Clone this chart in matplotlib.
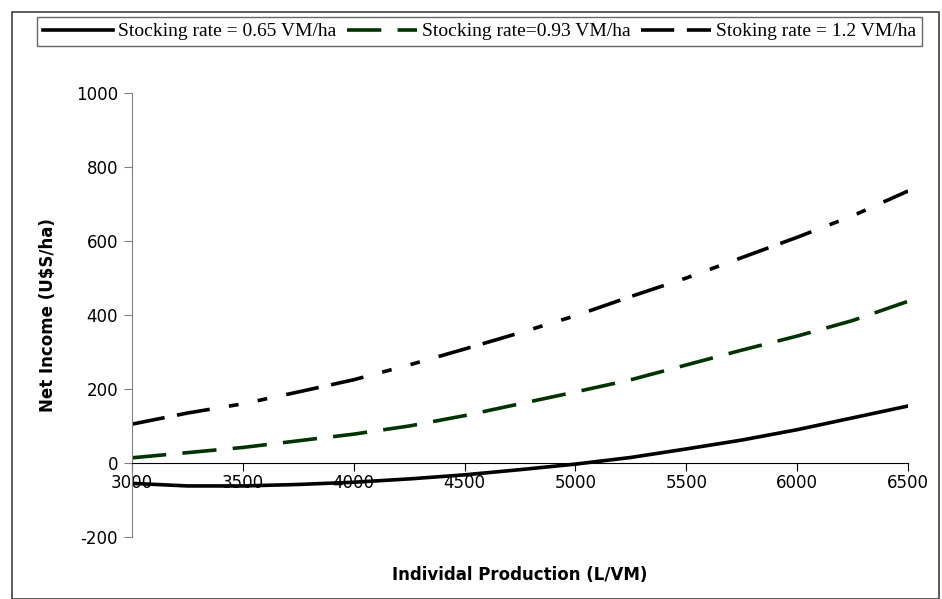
import matplotlib
matplotlib.use('Agg')
import matplotlib.pyplot as plt
from matplotlib.patches import Rectangle

# Individual production (L/VM)
production = [3000, 3250, 3500, 3750, 4000, 4250, 4500, 4750, 5000,
              5250, 5500, 5750, 6000, 6250, 6500]
# Net income (U$S/ha) for each stocking rate
income_065 = [-55, -62, -62, -58, -52, -43, -32, -18, -3,
              15, 38, 62, 90, 122, 154]
income_093 = [14, 28, 42, 60, 78, 100, 128, 160, 192,
              225, 265, 305, 343, 385, 437]
income_12 = [105, 135, 160, 192, 225, 265, 308, 352, 398,
             450, 500, 555, 610, 668, 735]

labels = ['Stocking rate = 0.65 VM/ha', 'Stocking rate=0.93 VM/ha',
          'Stoking rate = 1.2 VM/ha']

plt.rcParams['axes.unicode_minus'] = False

fig = plt.figure(figsize=(9.42, 5.99), dpi=100)
ax = fig.add_axes([132/942, 1 - 537/599, 776/942, 444/599])

lw = 2.6
ax.plot(production, income_065, color='black', lw=lw, label=labels[0])
ax.plot(production, income_093, color='#003300', lw=lw,
        dashes=(9.5, 4.5), label=labels[1])
ax.plot(production, income_12, color='black', lw=lw,
        dashes=(9.2, 3.5, 9.2, 5.4, 2.7, 5.4, 2.7, 5.4), label=labels[2])

ax.set_xlim(3000, 6500)
ax.set_ylim(-200, 1000)
ax.set_xticks(range(3000, 6501, 500))
ax.set_yticks(range(-200, 1001, 200))

ax.spines['top'].set_visible(False)
ax.spines['right'].set_visible(False)
ax.spines['bottom'].set_position(('data', 0))
ax.spines['bottom'].set_color('black')
ax.spines['left'].set_color('#808080')
ax.tick_params(axis='x', direction='out', length=6, color='black',
               labelsize=12, pad=2)
ax.tick_params(axis='y', direction='out', length=6, color='#808080',
               labelsize=12, pad=4)

ax.set_ylabel('Net Income (U$S/ha)', fontsize=12, fontweight='bold', labelpad=14)
ax.set_xlabel('Individal Production (L/VM)', fontsize=12, fontweight='bold')
ax.xaxis.set_label_coords(0.5, -0.065)

leg = fig.legend(loc='upper left', ncol=3,
                 bbox_to_anchor=(37/942, 1 - 17/599),
                 prop={'family': 'Liberation Serif', 'size': 14},
                 frameon=True, fancybox=False, handlelength=3.6,
                 handletextpad=0.25, columnspacing=0.55, borderaxespad=0,
                 borderpad=0.3)
leg.get_frame().set_edgecolor('#404040')
leg.get_frame().set_linewidth(1.0)

# outer chart border
fig.patches.append(Rectangle((12/942, 0), 927/942, 1 - 12/599,
                             transform=fig.transFigure, fill=False,
                             edgecolor='#404040', lw=1.2))

fig.savefig('out.png', dpi=100)
